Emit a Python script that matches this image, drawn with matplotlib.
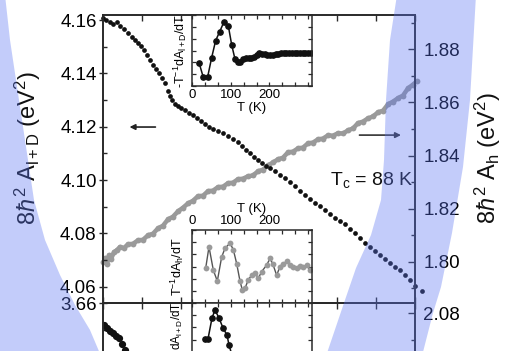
import numpy as np
import matplotlib
matplotlib.use('Agg')
import matplotlib.pyplot as plt
from matplotlib.ticker import MultipleLocator, NullFormatter
from matplotlib.patches import Polygon

plt.rcParams['font.family'] = ['Liberation Sans', 'DejaVu Sans']
plt.rcParams['mathtext.fontset'] = 'custom'
plt.rcParams['mathtext.rm'] = 'Liberation Sans'
plt.rcParams['mathtext.it'] = 'Liberation Sans:italic'
plt.rcParams['mathtext.default'] = 'rm'

# ---------------- data ----------------
T_lD = [0.0, 3.1, 7.2, 10.3, 14.4, 17.4, 21.5, 25.6, 29.7, 32.8, 35.9, 39.0, 42.1, 45.1, 48.2,
        51.3, 54.4, 57.4, 60.5, 63.6, 66.7, 68.7, 70.8, 73.8, 76.9, 80.0, 84.1, 88.2, 92.3, 96.4,
        100.5, 104.6, 108.7, 112.8, 117.9, 123.1, 128.2, 133.3, 138.5, 142.6, 146.7, 150.8, 154.9,
        159.0, 163.1, 167.2, 171.3, 176.4, 181.5, 186.7, 191.8, 196.9, 202.1, 207.2, 212.3, 217.4,
        222.6, 227.7, 232.8, 237.9, 243.1, 248.2, 253.3, 258.5, 263.6, 268.7, 273.8, 279.0, 284.1,
        289.2, 294.4, 299.5, 304.6, 309.7, 314.9, 320.0, 327.2]
A_lD = [4.1608, 4.1600, 4.1593, 4.1585, 4.1593, 4.1577, 4.1566, 4.1551, 4.1536, 4.1525, 4.1514,
        4.1502, 4.1487, 4.1469, 4.1450, 4.1431, 4.1416, 4.1401, 4.1382, 4.1364, 4.1334, 4.1315,
        4.1300, 4.1285, 4.1277, 4.1270, 4.1262, 4.1251, 4.1244, 4.1232, 4.1221, 4.1210, 4.1198,
        4.1191, 4.1183, 4.1176, 4.1165, 4.1153, 4.1142, 4.1127, 4.1112, 4.1101, 4.1086, 4.1075,
        4.1063, 4.1052, 4.1045, 4.1033, 4.1018, 4.1007, 4.0992, 4.0977, 4.0958, 4.0943, 4.0928,
        4.0913, 4.0902, 4.0887, 4.0872, 4.0857, 4.0846, 4.0835, 4.0816, 4.0801, 4.0782, 4.0763,
        4.0748, 4.0733, 4.0718, 4.0703, 4.0688, 4.0673, 4.0662, 4.0643, 4.0624, 4.0602, 4.0583]

T_h = [0.0, 2.1, 4.1, 6.2, 8.2, 11.3, 14.4, 17.4, 21.5, 25.6, 30.8, 35.9, 41.0, 46.2, 51.3, 56.4,
       61.5, 66.7, 71.8, 76.9, 82.1, 87.2, 92.3, 97.4, 102.6, 107.7, 112.8, 117.9, 123.1, 128.2,
       133.3, 138.5, 143.6, 148.7, 153.8, 159.0, 164.1, 169.2, 174.4, 179.5, 184.6, 189.7, 194.9,
       200.0, 205.1, 210.3, 215.4, 220.5, 225.6, 230.8, 235.9, 241.0, 246.2, 251.3, 256.4, 261.5,
       266.7, 271.8, 276.9, 282.1, 287.2, 292.3, 297.4, 302.6, 307.7, 312.8, 317.9, 322.1]
A_h = [1.7999, 1.8014, 1.7992, 1.8025, 1.8010, 1.8037, 1.8044, 1.8056, 1.8052, 1.8066, 1.8068,
       1.8081, 1.8083, 1.8100, 1.8106, 1.8126, 1.8136, 1.8160, 1.8170, 1.8190, 1.8204, 1.8220,
       1.8230, 1.8247, 1.8249, 1.8266, 1.8268, 1.8281, 1.8283, 1.8296, 1.8298, 1.8311, 1.8313,
       1.8322, 1.8325, 1.8341, 1.8347, 1.8363, 1.8374, 1.8386, 1.8392, 1.8412, 1.8415, 1.8427,
       1.8430, 1.8446, 1.8449, 1.8461, 1.8464, 1.8476, 1.8475, 1.8484, 1.8483, 1.8495, 1.8502,
       1.8522, 1.8528, 1.8540, 1.8547, 1.8563, 1.8569, 1.8593, 1.8603, 1.8616, 1.8626, 1.8653,
       1.8667, 1.8680]

# inset: -T^-1 dA_lD/dT (arb. units)
T_ins_lD = [18.1, 29.3, 40.5, 50.8, 61.1, 71.5, 82.7, 93.9, 102.5, 111, 118, 125, 132, 139, 146,
            153, 160, 167, 174, 181, 188, 195, 202, 209, 216, 223, 230, 237, 244, 251, 258, 265,
            272, 279, 286, 293, 300, 307]
dA_lD = [0.33, 0.12, 0.13, 0.40, 0.64, 0.765, 0.905, 0.845, 0.58, 0.38, 0.34, 0.34, 0.38, 0.39,
         0.39, 0.40, 0.41, 0.44, 0.46, 0.45, 0.45, 0.44, 0.43, 0.44, 0.45, 0.45, 0.46, 0.46, 0.46,
         0.46, 0.46, 0.46, 0.46, 0.46, 0.46, 0.46, 0.46, 0.47]

# inset: T^-1 dA_h/dT (arb. units)
T_ins_h = [35.3, 43.9, 55.1, 65.4, 76.6, 85.3, 98.2, 106.8, 115.4, 124.0, 130.0, 136.9, 145.5,
           154.1, 162.8, 171.4, 180.0, 192.9, 201.5, 208.4, 218.7, 227.3, 236.0, 244.6, 253.2,
           261.8, 270.4, 279.0, 287.6, 296.2, 304.8]
dA_h = [0.475, 0.77, 0.45, 0.30, 0.63, 0.75, 0.82, 0.73, 0.54, 0.30, 0.18, 0.20, 0.32, 0.38, 0.41,
        0.34, 0.43, 0.52, 0.61, 0.54, 0.38, 0.50, 0.54, 0.57, 0.52, 0.50, 0.475, 0.51, 0.50, 0.52,
        0.45]

# lower (cut-off) panel
T_low = [1.0, 4.1, 7.2, 10.3, 13.3, 16.4, 19.5, 22.6, 25.6]
A_low = [3.6519, 3.6507, 3.6496, 3.6489, 3.6477, 3.6470, 3.6447, 3.6425, 3.6406]
T_low_ins = [33.6, 41.3, 51.7, 59.4, 69.7, 80.1, 90.4, 95.6, 103.0]
dA_low = [0.507, 0.507, 0.795, 0.904, 0.795, 0.658, 0.562, 0.425, 0.29]

left_ticks = [4.06, 4.08, 4.10, 4.12, 4.14, 4.16]
right_ticks = [1.80, 1.82, 1.84, 1.86, 1.88]

# ---------------- layout ----------------
W, H = 517, 351
fig = plt.figure(figsize=(W / 100, H / 100), dpi=100)


def rect(l, t, r, b):
    return [l / W, 1 - b / H, (r - l) / W, (b - t) / H]


SP = '#2a2a2a'
TL = 13.5

# lower cut-off panel
axl = fig.add_axes(rect(103, 303, 415, 403))
axlr = axl.twinx()
axl.set_xlim(0, 320)
axl.set_ylim(3.6225, 3.66)
axlr.set_ylim(2.0462, 2.0839)
axl.plot(T_low, A_low, 'o', color='#111111', ms=4.2, clip_on=True)
axl.set_yticks([3.66])
axl.yaxis.set_minor_locator(MultipleLocator(0.01))
axl.xaxis.set_major_locator(MultipleLocator(40))
axl.tick_params(axis='x', which='both', direction='in', top=True, bottom=False,
                labelbottom=False, length=4, width=1, color=SP)
axl.tick_params(axis='y', which='major', direction='inout', length=6, width=1,
                labelsize=TL, pad=1.5, color=SP)
axl.tick_params(axis='y', which='minor', direction='in', length=3, width=1, color=SP)
axlr.set_yticks([2.08])
axlr.yaxis.set_minor_locator(MultipleLocator(0.01))
axlr.tick_params(axis='y', which='major', direction='in', length=5, width=1,
                 labelsize=TL, pad=6, color=SP)
axlr.tick_params(axis='y', which='minor', direction='in', length=3, width=1, color=SP)
for a in (axl, axlr):
    for s in a.spines.values():
        s.set_color(SP)
        s.set_linewidth(1.2)

# main panel
ax = fig.add_axes(rect(103, 15, 415, 303))
axr = ax.twinx()
ax.set_zorder(axr.get_zorder() + 1)
ax.patch.set_visible(False)
ax.set_xlim(0, 320)
ax.set_ylim(4.0539, 4.1619)
axr.set_ylim(1.7845, 1.8929)

axr.plot(T_h, A_h, '-', color='#9a9a9a', lw=3.2, solid_capstyle='round')
axr.plot(T_h, A_h, 'o', color='#9a9a9a', ms=4.2, mec='none', clip_on=False)
ax.plot(T_lD, A_lD, 'o', color='#111111', ms=3.4, mec='none', clip_on=False)

ax.set_yticks(left_ticks)
ax.yaxis.set_minor_locator(MultipleLocator(0.01))
ax.xaxis.set_major_locator(MultipleLocator(40))
ax.tick_params(axis='x', which='both', direction='in', top=True, bottom=True,
               labelbottom=False, length=4, width=1, color=SP)
ax.tick_params(axis='y', which='major', direction='inout', length=6, width=1,
               labelsize=TL, pad=1.5, color=SP)
ax.tick_params(axis='y', which='minor', direction='in', length=3, width=1, color=SP)
axr.set_yticks(right_ticks)
axr.yaxis.set_minor_locator(MultipleLocator(0.01))
axr.tick_params(axis='y', which='major', direction='in', length=5, width=1,
                labelsize=TL, pad=6, color=SP)
axr.tick_params(axis='y', which='minor', direction='in', length=3, width=1, color=SP)
for a in (ax, axr):
    for s in a.spines.values():
        s.set_color(SP)
        s.set_linewidth(1.2)

ax.annotate('', xy=(0.085, 0.611), xytext=(0.168, 0.611), xycoords='axes fraction',
            arrowprops=dict(arrowstyle='-|>', color='#222222', lw=1.2, mutation_scale=8,
                            shrinkA=0, shrinkB=0))
ax.annotate('', xy=(0.955, 0.583), xytext=(0.822, 0.583), xycoords='axes fraction',
            arrowprops=dict(arrowstyle='-|>', color='#333333', lw=1.2, mutation_scale=8,
                            shrinkA=0, shrinkB=0))
ax.text(0.994, 0.427, r'T$_c$ = 88 K', transform=ax.transAxes, ha='right', va='center',
        fontsize=14, color='#111111')

fig.text(28 / W, 1 - 148 / H, r'8$\mathit{\hbar}^2$ A$_{\rm l+D}$ (eV$^2$)', rotation=90,
         ha='center', va='center', fontsize=17, color='#111111')
fig.text(488 / W, 1 - 158 / H, r'8$\mathit{\hbar}^2$ A$_{\rm h}$ (eV$^2$)', rotation=90,
         ha='center', va='center', fontsize=17, color='#111111')


def style_inset(a, labels_top):
    a.set_xlim(0, 310)
    a.set_ylim(0, 1)
    a.set_xticks([0, 100, 200])
    a.set_xticks(np.arange(0, 311, 100 / 3), minor=True)
    a.set_yticks(np.linspace(0, 1, 7))
    a.yaxis.set_major_formatter(NullFormatter())
    a.tick_params(which='both', direction='in', top=True, bottom=True, left=True, right=True,
                  length=3, width=0.9, color=SP, labelsize=9.5, pad=2.5,
                  labeltop=labels_top, labelbottom=not labels_top)
    for s in a.spines.values():
        s.set_color(SP)
        s.set_linewidth(1.1)


ins1 = fig.add_axes(rect(192, 15, 312, 86))
ins1.set_zorder(5)
ins1.plot(T_ins_lD, dA_lD, '-o', color='#111111', ms=3.8, lw=1.1)
style_inset(ins1, False)
ins1.text(0.5, -22 / 71, 'T (K)', transform=ins1.transAxes, ha='center', va='center',
          fontsize=9.5)
ins1.text(-0.1, 0.5, r'-T$^{-1}$dA$_{\rm l+D}$/dT', transform=ins1.transAxes, rotation=90,
          ha='center', va='center', fontsize=9)

ins2 = fig.add_axes(rect(192, 230, 312, 303))
ins2.set_zorder(5)
ins2.plot(T_ins_h, dA_h, '-', color='#555555', lw=1.0)
ins2.plot(T_ins_h, dA_h, 'o', color='#9a9a9a', ms=4.2, mec='none')
style_inset(ins2, True)
ins2.text(0.5, 1 + 21 / 73, 'T (K)', transform=ins2.transAxes, ha='center', va='center',
          fontsize=9.5)
ins2.text(-0.125, 0.5, r'T$^{-1}$dA$_{\rm h}$/dT', transform=ins2.transAxes, rotation=90,
          ha='center', va='center', fontsize=9)

ins3 = fig.add_axes(rect(192, 303, 312, 376))
ins3.set_zorder(5)
ins3.plot(T_low_ins, dA_low, '-o', color='#111111', ms=3.8, lw=1.1)
style_inset(ins3, False)
ins3.tick_params(labelbottom=False)
ins3.text(-0.125, 0.69, r'dA$_{\rm l+D}$/dT', transform=ins3.transAxes, rotation=90,
          ha='center', va='center', fontsize=8.5)

# ---------------- blue highlight bands (decoration) ----------------
left_band = [(-5, -5), (5, -5), (10, 40), (16, 80), (22, 120), (28, 160), (34, 200), (45, 240),
             (60, 275), (75, 305), (90, 330), (101, 356), (-5, 356)]
right_band = [(397, -5), (390, 40), (386, 100), (384, 160), (381, 200), (371, 235), (356, 268),
              (345, 300), (326, 356), (422, 356), (433, 313), (441, 287), (452, 233),
              (463, 167), (470, 100), (476, -5)]
for pts in (left_band, right_band):
    poly = Polygon([(x / W, 1 - y / H) for x, y in pts], closed=True, transform=fig.transFigure,
                   facecolor='#5a74f2', edgecolor='none', alpha=0.36, zorder=100)
    fig.add_artist(poly)

fig.savefig('out.png', dpi=100)
